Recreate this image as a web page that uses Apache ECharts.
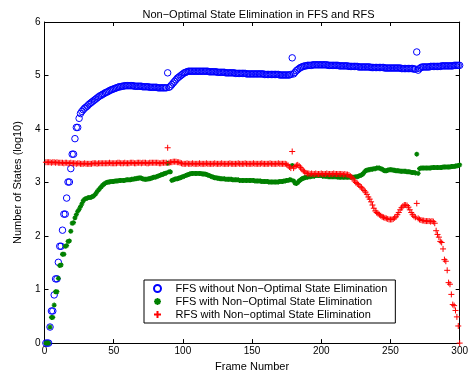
<!DOCTYPE html>
<html>
<head>
<meta charset="utf-8">
<script src="https://cdn.jsdelivr.net/npm/echarts@6/dist/echarts.min.js"></script>
<style>
  html, body { margin: 0; padding: 0; background: #fff; }
  #main { width: 471px; height: 377px; }
</style>
</head>
<body>
<div id="main"></div>
<script>
// states per frame (log10), frames 1..300, ten per row
var ffsWithout = [
  0, 0, 0, 0.30, 0.60, 0.60, 0.90, 1.20, 1.20, 1.51,
  1.81, 1.81, 2.11, 2.41, 2.41, 2.71, 3.01, 3.01, 3.26, 3.53,
  3.53, 3.82, 4.03, 4.03, 4.20, 4.29, 4.33, 4.36, 4.39, 4.41,
  4.43, 4.46, 4.48, 4.50, 4.52, 4.54, 4.56, 4.58, 4.60, 4.62,
  4.63, 4.65, 4.66, 4.68, 4.69, 4.70, 4.72, 4.73, 4.74, 4.75,
  4.76, 4.77, 4.78, 4.79, 4.79, 4.80, 4.80, 4.81, 4.81, 4.81,
  4.81, 4.81, 4.81, 4.81, 4.80, 4.80, 4.80, 4.80, 4.80, 4.80,
  4.79, 4.79, 4.79, 4.79, 4.79, 4.78, 4.78, 4.78, 4.78, 4.78,
  4.78, 4.77, 4.77, 4.77, 4.77, 4.77, 4.77, 4.77, 5.05, 4.78,
  4.80, 4.83, 4.86, 4.89, 4.92, 4.95, 4.97, 4.99, 5.01, 5.03,
  5.05, 5.06, 5.07, 5.08, 5.08, 5.08, 5.08, 5.08, 5.08, 5.08,
  5.08, 5.08, 5.08, 5.08, 5.08, 5.08, 5.08, 5.08, 5.07, 5.07,
  5.07, 5.07, 5.07, 5.07, 5.06, 5.06, 5.06, 5.06, 5.06, 5.06,
  5.05, 5.05, 5.05, 5.05, 5.05, 5.05, 5.05, 5.04, 5.04, 5.04,
  5.04, 5.04, 5.04, 5.04, 5.04, 5.03, 5.03, 5.03, 5.03, 5.03,
  5.03, 5.03, 5.03, 5.03, 5.03, 5.03, 5.03, 5.03, 5.02, 5.02,
  5.02, 5.02, 5.02, 5.02, 5.02, 5.02, 5.02, 5.02, 5.02, 5.01,
  5.01, 5.01, 5.01, 5.01, 5.01, 5.01, 5.01, 5.02, 5.33, 5.03,
  5.06, 5.09, 5.11, 5.13, 5.15, 5.16, 5.17, 5.18, 5.18, 5.19,
  5.19, 5.19, 5.19, 5.20, 5.20, 5.20, 5.20, 5.20, 5.20, 5.20,
  5.20, 5.20, 5.20, 5.20, 5.19, 5.19, 5.19, 5.19, 5.19, 5.19,
  5.19, 5.19, 5.18, 5.18, 5.18, 5.18, 5.18, 5.18, 5.18, 5.17,
  5.17, 5.17, 5.17, 5.17, 5.17, 5.17, 5.16, 5.16, 5.16, 5.16,
  5.16, 5.16, 5.16, 5.16, 5.16, 5.15, 5.15, 5.15, 5.15, 5.15,
  5.15, 5.15, 5.15, 5.15, 5.15, 5.14, 5.14, 5.14, 5.14, 5.14,
  5.14, 5.14, 5.14, 5.14, 5.14, 5.14, 5.14, 5.13, 5.13, 5.13,
  5.13, 5.13, 5.13, 5.13, 5.13, 5.13, 5.12, 5.12, 5.44, 5.10,
  5.13, 5.15, 5.16, 5.16, 5.16, 5.16, 5.16, 5.16, 5.17, 5.17,
  5.17, 5.17, 5.17, 5.17, 5.17, 5.17, 5.18, 5.18, 5.18, 5.18,
  5.18, 5.18, 5.18, 5.18, 5.18, 5.19, 5.19, 5.19, 5.19, 5.19
];

var ffsWith = [
  0, 0, 0, 0.30, 0.48, 0.48, 0.71, 0.96, 0.96, 1.21,
  1.45, 1.46, 1.66, 1.66, 1.81, 1.82, 1.90, 1.91, 2.09, 2.24,
  2.25, 2.34, 2.40, 2.46, 2.50, 2.55, 2.60, 2.66, 2.69, 2.70,
  2.71, 2.72, 2.72, 2.73, 2.74, 2.76, 2.79, 2.83, 2.86, 2.89,
  2.92, 2.95, 2.97, 2.99, 3.00, 3.01, 3.01, 3.02, 3.02, 3.02,
  3.03, 3.03, 3.03, 3.04, 3.04, 3.04, 3.04, 3.04, 3.05, 3.05,
  3.05, 3.05, 3.06, 3.06, 3.07, 3.07, 3.08, 3.08, 3.09, 3.08,
  3.07, 3.06, 3.06, 3.06, 3.07, 3.07, 3.08, 3.09, 3.10, 3.10,
  3.11, 3.12, 3.13, 3.14, 3.15, 3.16, 3.17, 3.18, 3.36, 3.20,
  3.20, 3.04, 3.05, 3.06, 3.07, 3.07, 3.08, 3.09, 3.10, 3.11,
  3.12, 3.13, 3.14, 3.15, 3.16, 3.17, 3.17, 3.17, 3.17, 3.17,
  3.17, 3.17, 3.17, 3.16, 3.16, 3.16, 3.15, 3.14, 3.13, 3.12,
  3.11, 3.10, 3.09, 3.09, 3.08, 3.08, 3.07, 3.07, 3.07, 3.07,
  3.06, 3.06, 3.06, 3.06, 3.06, 3.05, 3.05, 3.05, 3.05, 3.05,
  3.04, 3.04, 3.04, 3.04, 3.04, 3.04, 3.04, 3.04, 3.04, 3.04,
  3.04, 3.03, 3.03, 3.03, 3.03, 3.03, 3.02, 3.02, 3.02, 3.02,
  3.02, 3.01, 3.01, 3.01, 3.01, 3.01, 3.01, 3.01, 3.01, 3.02,
  3.02, 3.02, 3.03, 3.03, 3.04, 3.04, 3.05, 3.05, 3.32, 3.03,
  2.99, 2.98, 3.00, 3.03, 3.05, 3.07, 3.08, 3.09, 3.10, 3.10,
  3.11, 3.11, 3.12, 3.12, 3.12, 3.13, 3.13, 3.13, 3.13, 3.13,
  3.12, 3.12, 3.12, 3.12, 3.11, 3.11, 3.11, 3.11, 3.11, 3.11,
  3.11, 3.10, 3.10, 3.10, 3.10, 3.10, 3.10, 3.10, 3.10, 3.10,
  3.10, 3.10, 3.10, 3.10, 3.11, 3.11, 3.12, 3.13, 3.14, 3.16,
  3.19, 3.22, 3.23, 3.24, 3.24, 3.25, 3.25, 3.26, 3.26, 3.27,
  3.27, 3.27, 3.26, 3.25, 3.23, 3.22, 3.22, 3.23, 3.24, 3.24,
  3.24, 3.23, 3.23, 3.22, 3.22, 3.22, 3.21, 3.21, 3.21, 3.21,
  3.21, 3.20, 3.20, 3.20, 3.19, 3.19, 3.19, 3.18, 3.53, 3.17,
  3.26, 3.27, 3.27, 3.27, 3.27, 3.27, 3.27, 3.27, 3.27, 3.28,
  3.28, 3.28, 3.28, 3.28, 3.28, 3.28, 3.28, 3.29, 3.29, 3.29,
  3.29, 3.29, 3.29, 3.30, 3.30, 3.30, 3.31, 3.31, 3.32, 3.33
];

var rfsWith = [
  3.38, 3.38, 3.38, 3.38, 3.37, 3.38, 3.38, 3.37, 3.38, 3.37,
  3.37, 3.37, 3.37, 3.36, 3.37, 3.37, 3.36, 3.36, 3.37, 3.36,
  3.36, 3.36, 3.35, 3.36, 3.36, 3.35, 3.35, 3.35, 3.36, 3.35,
  3.35, 3.35, 3.35, 3.35, 3.36, 3.36, 3.36, 3.35, 3.36, 3.36,
  3.36, 3.36, 3.36, 3.36, 3.36, 3.36, 3.37, 3.36, 3.36, 3.36,
  3.36, 3.36, 3.37, 3.37, 3.36, 3.36, 3.36, 3.37, 3.36, 3.36,
  3.36, 3.37, 3.37, 3.37, 3.36, 3.36, 3.37, 3.37, 3.37, 3.36,
  3.37, 3.37, 3.37, 3.36, 3.36, 3.37, 3.37, 3.37, 3.37, 3.37,
  3.37, 3.37, 3.36, 3.36, 3.37, 3.37, 3.37, 3.37, 3.65, 3.37,
  3.38, 3.38, 3.39, 3.39, 3.39, 3.38, 3.38, 3.37, 3.36, 3.35,
  3.35, 3.35, 3.36, 3.35, 3.35, 3.35, 3.36, 3.35, 3.35, 3.35,
  3.35, 3.36, 3.35, 3.35, 3.35, 3.35, 3.36, 3.35, 3.35, 3.35,
  3.35, 3.35, 3.36, 3.35, 3.35, 3.35, 3.35, 3.36, 3.35, 3.35,
  3.35, 3.35, 3.35, 3.36, 3.35, 3.35, 3.35, 3.35, 3.35, 3.36,
  3.35, 3.35, 3.35, 3.35, 3.36, 3.35, 3.35, 3.35, 3.35, 3.35,
  3.36, 3.35, 3.35, 3.35, 3.35, 3.35, 3.36, 3.35, 3.35, 3.35,
  3.35, 3.35, 3.36, 3.35, 3.35, 3.35, 3.35, 3.35, 3.36, 3.35,
  3.35, 3.35, 3.35, 3.35, 3.34, 3.32, 3.29, 3.27, 3.58, 3.27,
  3.30, 3.32, 3.33, 3.31, 3.28, 3.25, 3.22, 3.20, 3.18, 3.17,
  3.17, 3.16, 3.17, 3.16, 3.16, 3.17, 3.16, 3.16, 3.16, 3.17,
  3.16, 3.16, 3.16, 3.17, 3.16, 3.16, 3.16, 3.16, 3.17, 3.16,
  3.16, 3.16, 3.16, 3.16, 3.16, 3.15, 3.16, 3.15, 3.15, 3.14,
  3.12, 3.10, 3.07, 3.03, 3.00, 2.98, 2.96, 2.93, 2.91, 2.88,
  2.85, 2.82, 2.78, 2.73, 2.69, 2.64, 2.58, 2.52, 2.47, 2.44,
  2.42, 2.40, 2.38, 2.36, 2.35, 2.34, 2.33, 2.32, 2.31, 2.31,
  2.31, 2.32, 2.34, 2.36, 2.40, 2.44, 2.49, 2.53, 2.56, 2.58,
  2.58, 2.57, 2.54, 2.49, 2.44, 2.40, 2.37, 2.35, 2.61, 2.33,
  2.31, 2.30, 2.29, 2.29, 2.28, 2.28, 2.28, 2.28, 2.27, 2.28,
  2.27, 2.24, 2.10, 2.03, 1.98, 1.90, 1.88, 1.76, 1.56, 1.53,
  1.36, 1.13, 1.10, 0.91, 0.72, 0.70, 0.61, 0.49, 0.32, 0.00
];

var seriesNames = [
  'FFS without Non\u2212Optimal State Elimination',
  'FFS with Non\u2212Optimal State Elimination',
  'RFS with Non\u2212optimal State Elimination'
];
var xTicks = [0, 50, 100, 150, 200, 250, 300];
var yTicks = [0, 1, 2, 3, 4, 5, 6];

var FONT = 'Liberation Sans';
var PLUS = 'path://M5,0L5,10M0,5L10,5';
var STAR = 'path://M5,0L5,10M0,5L10,5M1.6,1.6L8.4,8.4M8.4,1.6L1.6,8.4';

function toPoints(arr) {
    return arr.map(function (v, i) { return [i + 1, v]; });
}

var myChart = echarts.init(document.getElementById('main'), null, {renderer: 'canvas'});

var axisCommon = {
    min: 0,
    axisLine: {show: true, onZero: false, lineStyle: {color: '#000', width: 1}},
    axisTick: {show: true, inside: true, length: 4, lineStyle: {color: '#000'}},
    splitLine: {show: false}
};

option = {
    animation: false,
    backgroundColor: '#fff',
    title: {
        text: 'Non\u2212Optimal State Elimination in FFS and RFS',
        left: 253.5,
        top: 4,
        textAlign: 'center',
        textStyle: {fontFamily: FONT, fontSize: 11, fontWeight: 'normal', color: '#000'}
    },
    legend: {
        orient: 'vertical',
        left: 144,
        top: 280,
        padding: [2, 8, 2, 9],
        itemGap: 0,
        itemWidth: 10,
        itemHeight: 7,
        borderColor: '#000',
        borderWidth: 1,
        backgroundColor: '#fff',
        selectedMode: false,
        data: seriesNames,
        textStyle: {fontFamily: FONT, fontSize: 11, color: '#000', lineHeight: 13, padding: [0, 0, 0, 8]}
    },
    grid: {left: 44.5, right: 8.5, top: 22, bottom: 25, containLabel: false},
    xAxis: [
        Object.assign({}, axisCommon, {
            type: 'value', max: 300, interval: 50, position: 'bottom',
            name: 'Frame Number', nameLocation: 'middle', nameGap: 12,
            nameTextStyle: {fontFamily: FONT, fontSize: 11, color: '#000'},
            axisLabel: {fontFamily: FONT, fontSize: 10, color: '#000', margin: 3,
                formatter: function (v) { return xTicks.indexOf(v) >= 0 ? String(v) : ''; }}
        }),
        Object.assign({}, axisCommon, {
            type: 'value', max: 300, interval: 50, position: 'top',
            axisLabel: {show: false}
        })
    ],
    yAxis: [
        Object.assign({}, axisCommon, {
            type: 'value', max: 6, interval: 1, position: 'left',
            name: 'Number of States (log10)', nameLocation: 'middle', nameGap: 21,
            nameTextStyle: {fontFamily: FONT, fontSize: 11, color: '#000'},
            axisLabel: {fontFamily: FONT, fontSize: 10, color: '#000', margin: 4,
                formatter: function (v) { return yTicks.indexOf(v) >= 0 ? String(v) : ''; }}
        }),
        Object.assign({}, axisCommon, {
            type: 'value', max: 6, interval: 1, position: 'right',
            axisLabel: {show: false}
        })
    ],
    series: [
        {
            name: seriesNames[0],
            type: 'scatter',
            symbol: 'circle',
            symbolSize: 6.5,
            itemStyle: {color: 'rgba(0,0,0,0)', borderColor: '#0000ff', borderWidth: 1, opacity: 1},
            data: toPoints(ffsWithout)
        },
        {
            name: seriesNames[1],
            type: 'scatter',
            symbol: STAR,
            symbolSize: 5,
            itemStyle: {color: '#008000', borderColor: '#008000', borderWidth: 1.3, opacity: 1},
            data: toPoints(ffsWith)
        },
        {
            name: seriesNames[2],
            type: 'scatter',
            symbol: PLUS,
            symbolSize: 6,
            itemStyle: {color: '#ff0000', borderColor: '#ff0000', borderWidth: 1, opacity: 1},
            data: toPoints(rfsWith)
        }
    ]
};
myChart.setOption(option);
</script>
</body>
</html>
